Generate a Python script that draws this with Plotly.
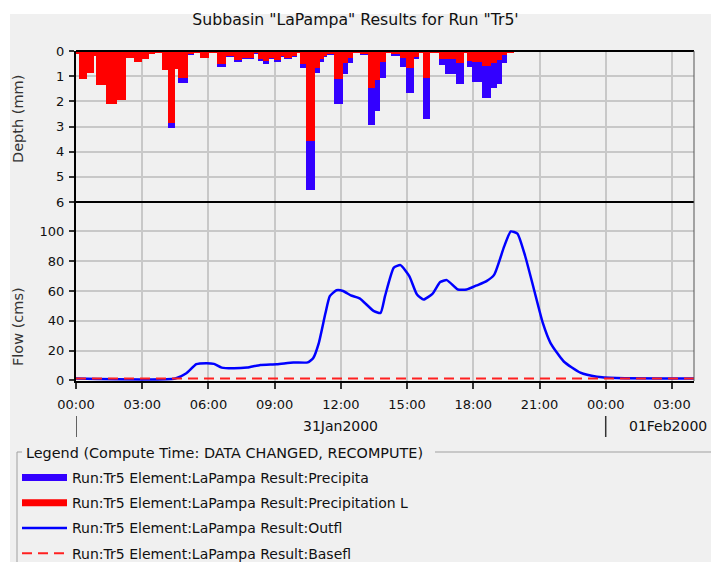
import pandas as pd
import plotly.graph_objects as go

# ---------------- data ----------------
BASE = "2000-01-31 00:00"

# precipitation intervals (minutes after 00:00 31Jan2000): edges, total depth, loss depth (mm)
precip_edges_min = [0, 8, 31, 49, 53, 81, 112, 135, 158, 180, 198, 216, 234, 250, 270, 278, 305,
                    320, 338, 361, 384, 407, 430, 452, 484, 496, 509, 526, 538, 556, 565, 588,
                    600, 610, 626, 650, 662, 673, 682, 700, 726, 739, 753, 773, 793, 814, 827,
                    843, 855, 882, 898, 919, 933, 942, 963, 987, 1004, 1033, 1054, 1063, 1076,
                    1104, 1129, 1144, 1158, 1171, 1190]
precip_total = [0.10, 1.13, 0.89, 0.20, 1.35, 2.12, 1.95, 0.27, 0.44, 0.32, 0.10, 0.05, 0.75,
                3.05, 0.70, 1.29, 0.16, 0.08, 0.29, 0.08, 0.62, 0.23, 0.45, 0.32, 0.10, 0.41,
                0.53, 0.32, 0.45, 0.23, 0.32, 0.25, 0.08, 0.69, 5.53, 0.89, 0.42, 0.23, 0.16,
                2.12, 0.93, 0.49, 0.08, 0.16, 2.94, 2.39, 1.06, 0.08, 0.20, 0.65, 1.66, 0.30,
                0.08, 2.70, 0.06, 0.56, 0.90, 1.33, 0.08, 0.64, 1.22, 1.87, 1.46, 1.33, 0.49,
                0.05]
precip_loss = [0.10, 1.13, 0.89, 0.20, 1.35, 2.12, 1.95, 0.27, 0.44, 0.32, 0.10, 0.05, 0.75,
               2.87, 0.70, 1.09, 0.12, 0.08, 0.26, 0.08, 0.53, 0.20, 0.36, 0.29, 0.09, 0.33,
               0.41, 0.29, 0.36, 0.20, 0.26, 0.18, 0.08, 0.50, 3.58, 0.69, 0.30, 0.18, 0.12,
               1.11, 0.49, 0.29, 0.06, 0.10, 1.46, 1.15, 0.45, 0.06, 0.12, 0.27, 0.69, 0.22,
               0.06, 1.09, 0.05, 0.32, 0.32, 0.49, 0.06, 0.40, 0.45, 0.60, 0.49, 0.36, 0.15,
               0.04]

# outflow hydrograph (hours after 00:00 31Jan2000, cms)
flow_hours = [0, 4.5, 5.0, 5.45, 5.9, 6.25, 6.6, 7.1, 7.75, 8.35, 9.1, 9.85, 10.5, 10.75, 11.0,
              11.3, 11.5, 11.8, 12.1, 12.45, 12.85, 13.5, 13.8, 14.0, 14.4, 14.7, 15.1, 15.45,
              15.75, 16.15, 16.5, 16.8, 17.3, 17.7, 18.15, 18.6, 18.95, 19.4, 19.7, 20.0, 20.35,
              20.75, 21.15, 21.5, 22.1, 22.85, 23.6, 24.5, 28.0]
outflow = [1.2, 1.2, 4.7, 10.8, 11.5, 11.0, 8.5, 8.0, 8.5, 10.3, 10.8, 12.0, 12.0, 15.0, 25.0,
           45.0, 56.5, 60.5, 60.0, 57.0, 55.0, 46.4, 45.3, 56.5, 75.7, 77.4, 70.0, 57.6, 54.3,
           58.1, 66.0, 67.3, 61.0, 61.0, 63.7, 66.6, 71.0, 90.0, 100.0, 98.6, 83.5, 61.0, 38.5,
           25.0, 12.6, 5.1, 2.4, 1.6, 1.2]
base_hours = [0, 28.0]
baseflow = [1.2, 1.2]

x_ticks_fmt = "%H:%M"
day_labels = ["31Jan2000", "01Feb2000"]
legend_title = "Legend (Compute Time: DATA CHANGED, RECOMPUTE)"
names = ["Run:Tr5 Element:LaPampa Result:Precipita",
         "Run:Tr5 Element:LaPampa Result:Precipitation L",
         "Run:Tr5 Element:LaPampa Result:Outfl",
         "Run:Tr5 Element:LaPampa Result:Basefl"]

# ---------------- build ----------------
base = pd.Timestamp(BASE)
bar_x = [base + pd.Timedelta(minutes=m) for m in precip_edges_min[:-1]]
bar_w = [(b - a) * 60000 for a, b in zip(precip_edges_min[:-1], precip_edges_min[1:])]
flow_x = [base + pd.Timedelta(hours=h) for h in flow_hours]
bflow_x = [base + pd.Timedelta(hours=h) for h in base_hours]

BLUE_BAR = "#3300ff"
RED = "#ff0000"
FONT = "DejaVu Sans"
BG = "#f0f0f0"
GRID = "#c8c8c8"
TXT = "#111111"

W, H = 711, 562
L, R, T, B = 76, 17, 51, 181
PH = H - T - B
split_px = 202
split = (H - B - split_px) / PH

def px2x(px):
    return (px - L) / (W - L - R)

def px2y(py):
    return (H - B - py) / PH

fig = go.Figure()
fig.add_trace(go.Bar(x=bar_x, y=precip_total, width=bar_w, offset=0, marker=dict(color=BLUE_BAR, line=dict(width=0)),
                     xaxis="x2", yaxis="y2", showlegend=False, name=names[0]))
fig.add_trace(go.Bar(x=bar_x, y=precip_loss, width=bar_w, offset=0, marker=dict(color=RED, line=dict(width=0)),
                     xaxis="x2", yaxis="y2", showlegend=False, name=names[1]))
# legend entries for the bars
fig.add_trace(go.Scatter(x=[None], y=[None], mode="lines", line=dict(color=BLUE_BAR, width=7),
                         name=names[0], legendgroup="a"))
fig.add_trace(go.Scatter(x=[None], y=[None], mode="lines", line=dict(color=RED, width=7),
                         name=names[1], legendgroup="b"))
fig.add_trace(go.Scatter(x=flow_x, y=outflow, mode="lines",
                         line=dict(color="#0000ff", width=2.5, shape="spline", smoothing=0.5),
                         name=names[2], legendgroup="c"))
fig.add_trace(go.Scatter(x=bflow_x, y=baseflow, mode="lines", line=dict(color="#ff2020", width=2, dash="10px,6px"),
                         name=names[3], legendgroup="d"))

xr = [base, base + pd.Timedelta(hours=28)]
common_x = dict(type="date", range=xr, dtick=3 * 3600000, tick0=base, showgrid=True, gridcolor=GRID,
                gridwidth=1.5, zeroline=False)
axfont = dict(family=FONT, size=13, color=TXT)

shapes = [
    # white outer margins
    dict(type="rect", xref="paper", yref="paper", x0=px2x(0), x1=px2x(10), y0=px2y(H), y1=px2y(0),
         fillcolor="white", line=dict(width=0), layer="below"),
    dict(type="rect", xref="paper", yref="paper", x0=px2x(0), x1=px2x(W), y0=px2y(14), y1=px2y(0),
         fillcolor="white", line=dict(width=0), layer="below"),
    # frame
    dict(type="line", xref="paper", yref="paper", x0=0, x1=1, y0=1, y1=1, line=dict(color="black", width=2)),
    dict(type="line", xref="paper", yref="paper", x0=0, x1=1, y0=split, y1=split, line=dict(color="black", width=2)),
    dict(type="line", xref="paper", yref="paper", x0=1, x1=1, y0=0, y1=1, line=dict(color="#555555", width=1)),
    # day separators
    dict(type="line", xref="x", yref="paper", x0=base, x1=base, y0=px2y(416), y1=px2y(437),
         line=dict(color="#333333", width=1.5)),
    dict(type="line", xref="x", yref="paper", x0=base + pd.Timedelta(days=1), x1=base + pd.Timedelta(days=1),
         y0=px2y(416), y1=px2y(437), line=dict(color="#333333", width=1.5)),
    # legend group box
    dict(type="line", xref="paper", yref="paper", x0=px2x(17), x1=px2x(17), y0=px2y(452), y1=px2y(H + 5),
         line=dict(color="#a0a0a0", width=1)),
    dict(type="line", xref="paper", yref="paper", x0=px2x(17), x1=px2x(22), y0=px2y(452), y1=px2y(452),
         line=dict(color="#a0a0a0", width=1)),
    dict(type="line", xref="paper", yref="paper", x0=px2x(435), x1=px2x(W), y0=px2y(452), y1=px2y(452),
         line=dict(color="#a0a0a0", width=1)),
]

annotations = [
    dict(text="Depth (mm)", xref="paper", yref="paper", x=px2x(18), y=px2y(119), textangle=-90,
         showarrow=False, font=dict(family=FONT, size=14.5, color="#333333"), xanchor="center", yanchor="middle"),
    dict(text="Flow (cms)", xref="paper", yref="paper", x=px2x(18), y=px2y(327), textangle=-90,
         showarrow=False, font=dict(family=FONT, size=14.5, color="#333333"), xanchor="center", yanchor="middle"),
    dict(text=day_labels[0], xref="x", yref="paper", x=base + pd.Timedelta(hours=12), y=px2y(426),
         showarrow=False, font=dict(family=FONT, size=14, color=TXT), xanchor="center", yanchor="middle"),
    dict(text=day_labels[1], xref="paper", yref="paper", x=px2x(668), y=px2y(426),
         showarrow=False, font=dict(family=FONT, size=14, color=TXT), xanchor="center", yanchor="middle"),
    dict(text=legend_title, xref="paper", yref="paper", x=px2x(24), y=px2y(453),
         showarrow=False, font=dict(family=FONT, size=14.4, color=TXT), xanchor="left", yanchor="middle"),
]

fig.update_layout(
    width=W, height=H,
    margin=dict(l=L, r=R, t=T, b=B, pad=0, autoexpand=False),
    paper_bgcolor=BG, plot_bgcolor=BG,
    barmode="overlay", bargap=0,
    title=dict(text='Subbasin "LaPampa" Results for Run "Tr5\'', x=0.5, xanchor="center",
               y=1 - 20 / H, yanchor="middle", font=dict(family=FONT, size=15.7, color=TXT)),
    xaxis=dict(**common_x, anchor="y", showline=True, linecolor="black", linewidth=2,
               ticks="outside", ticklen=6, tickcolor="#333333", tickwidth=1.5, tickangle=0,
               tickformat=x_ticks_fmt, tickfont=axfont, ticklabelstandoff=4),
    xaxis2=dict(**common_x, anchor="y2", matches="x", showticklabels=False, ticks=""),
    yaxis=dict(domain=[0, split], range=[-0.5, 119.8], dtick=20, tick0=0,
               showgrid=True, gridcolor=GRID, gridwidth=1.5, zeroline=False,
               showline=True, linecolor="black", linewidth=2, ticks="outside", ticklen=5,
               tickcolor="#333333", tickwidth=1.5, tickfont=axfont, ticklabelstandoff=2),
    yaxis2=dict(domain=[split, 1], range=[6, 0], dtick=1, tick0=0,
                showgrid=True, gridcolor=GRID, gridwidth=1.5, zeroline=False,
                showline=True, linecolor="black", linewidth=2, ticks="outside", ticklen=5,
                tickcolor="#333333", tickwidth=1.5, tickfont=axfont, ticklabelstandoff=2),
    legend=dict(xref="container", yref="container", x=17 / W, y=1 - 462 / H, xanchor="left", yanchor="top",
                bgcolor="rgba(0,0,0,0)", font=dict(family=FONT, size=14, color=TXT),
                tracegroupgap=4, itemwidth=45, traceorder="grouped"),
    shapes=shapes, annotations=annotations,
)

fig.write_html("out.html", post_script="document.body.style.margin='0';",
               config={"displayModeBar": False})
